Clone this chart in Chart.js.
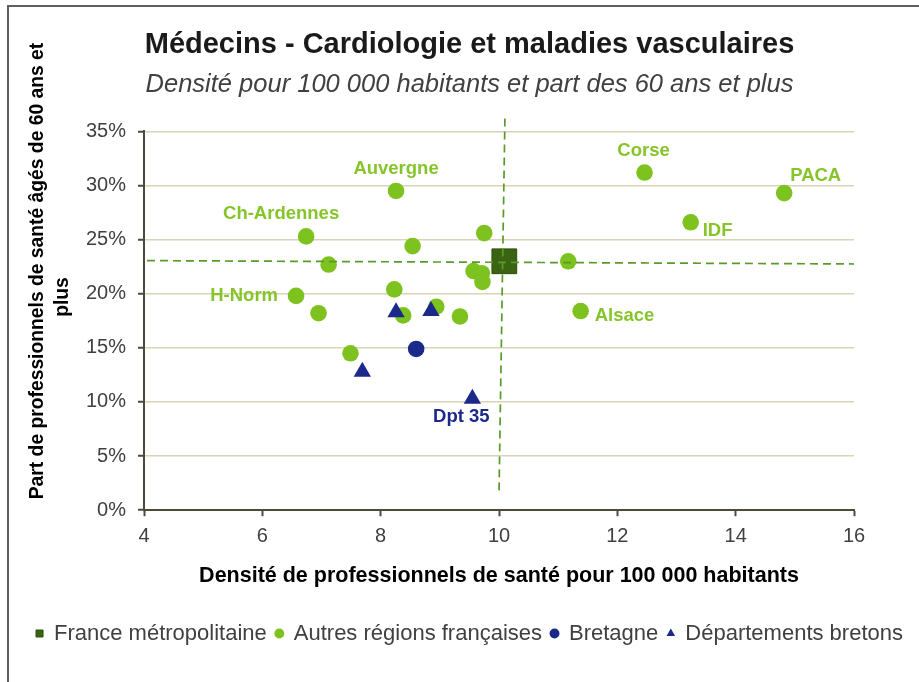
<!DOCTYPE html>
<html>
<head>
<meta charset="utf-8">
<script src="https://cdn.jsdelivr.net/npm/chart.js@4/dist/chart.umd.min.js"></script>
<style>
html,body{margin:0;padding:0;background:#fff;}
#wrap{position:relative;width:919px;height:682px;}
canvas{display:block;}
</style>
</head>
<body>
<div id="wrap"><canvas id="c" width="919" height="682"></canvas></div>
<script>
// ---------- DATA ----------
const seriesNames = ['France métropolitaine', 'Autres régions françaises', 'Bretagne', 'Départements bretons'];

const franceX = [10.09];
const franceY = [23.0];

const autresX = [8.26, 6.74, 9.75, 8.54, 7.12, 9.57, 9.71, 9.72, 8.23, 6.57, 6.95, 8.38, 8.94, 9.34, 7.49, 12.46, 14.82, 13.24, 11.17, 11.38];
const autresY = [29.5, 25.3, 25.6, 24.4, 22.7, 22.1, 21.9, 21.1, 20.4, 19.8, 18.2, 18.0, 18.8, 17.9, 14.5, 31.2, 29.3, 26.6, 23.0, 18.4];
const autresNoms = ['Auvergne', 'Ch-Ardennes', '', '', '', '', '', '', '', 'H-Norm', '', '', '', '', '', 'Corse', 'PACA', 'IDF', '', 'Alsace'];

const bretagneX = [8.60];
const bretagneY = [14.9];

const deptX = [8.26, 8.85, 7.69, 9.55];
const deptY = [18.3, 18.4, 12.8, 10.3];
const deptNoms = ['', '', '', 'Dpt 35'];

// reference (France) dashed lines
const refVertX = [10.10, 10.0];
const refVertY = [36.2, 1.5];
const refHorX = [4.05, 16.0];
const refHorY = [23.06, 22.75];

const xMin = 4, xMax = 16, xStep = 2;
const yMin = 0, yMax = 35, yStep = 5;

const titleText = 'Médecins - Cardiologie et maladies vasculaires';
const subtitleText = 'Densité pour 100 000 habitants et part des 60 ans et plus';
const xTitleText = 'Densité de professionnels de santé pour 100 000 habitants';
const yTitleLines = ['Part de professionnels de santé âgés de 60 ans et', 'plus'];

// ---------- STYLE / LAYOUT ----------
const FONT = "'Liberation Sans', Arial, sans-serif";
const GREEN = '#7dc21e';
const GREEN_LABEL = '#86c52a';
const NAVY = '#1b2a8a';
const DARKGREEN = '#3b6412';
const DASH = '#5a9a28';

const labelLayout = {
  'Auvergne':    {dx: 0,   dy: -22, align: 'center'},
  'Ch-Ardennes': {dx: -25, dy: -22, align: 'center'},
  'H-Norm':      {dx: -18, dy: 0,   align: 'right'},
  'Corse':       {dx: -1,  dy: -22, align: 'center'},
  'PACA':        {dx: 6,   dy: -17, align: 'left'},
  'IDF':         {dx: 12,  dy: 9,   align: 'left'},
  'Alsace':      {dx: 14,  dy: 5,   align: 'left'},
  'Dpt 35':      {dx: -11, dy: 18,  align: 'center'}
};

const pts = (xs, ys) => xs.map((x, i) => ({x: x, y: ys[i]}));

const labelsPlugin = {
  id: 'pointLabels',
  afterDatasetsDraw(chart) {
    const ctx = chart.ctx;
    const sx = chart.scales.x, sy = chart.scales.y;
    const groups = [
      {xs: autresX, ys: autresY, names: autresNoms, color: GREEN_LABEL},
      {xs: deptX, ys: deptY, names: deptNoms, color: NAVY}
    ];
    ctx.save();
    ctx.font = 'bold 18.5px ' + FONT;
    ctx.textBaseline = 'middle';
    groups.forEach(g => {
      g.names.forEach((n, i) => {
        if (!n) return;
        const lay = labelLayout[n] || {dx: 0, dy: -20, align: 'center'};
        const px = sx.getPixelForValue(g.xs[i]);
        const py = sy.getPixelForValue(g.ys[i]);
        ctx.textAlign = lay.align;
        ctx.fillStyle = g.color;
        ctx.fillText(n, px + lay.dx, py + lay.dy);
      });
    });
    ctx.restore();
  }
};

const framePlugin = {
  id: 'frameAndYTitle',
  beforeDraw(chart) {
    const ctx = chart.ctx;
    ctx.save();
    ctx.fillStyle = '#fff';
    ctx.fillRect(0, 0, chart.width, chart.height);
    ctx.strokeStyle = '#5f5f5f';
    ctx.lineWidth = 2;
    ctx.beginPath();
    ctx.moveTo(8, chart.height);
    ctx.lineTo(8, 6);
    ctx.lineTo(chart.width, 6);
    ctx.stroke();
    ctx.restore();
  },
  afterDraw(chart) {
    const ctx = chart.ctx;
    ctx.save();
    ctx.font = 'bold 19.3px ' + FONT;
    ctx.fillStyle = '#000';
    ctx.textAlign = 'center';
    ctx.textBaseline = 'middle';
    const pos = [[38, 271], [63, 297]];
    yTitleLines.forEach((t, i) => {
      ctx.save();
      ctx.translate(pos[i][0], pos[i][1]);
      ctx.rotate(-Math.PI / 2);
      ctx.fillText(t, 0, 0);
      ctx.restore();
    });
    ctx.restore();
  }
};

new Chart(document.getElementById('c'), {
  type: 'scatter',
  data: {
    datasets: [
      {label: seriesNames[0], data: pts(franceX, franceY), pointStyle: 'rect', pointRadius: 17.5, pointHoverRadius: 17.5,
       backgroundColor: DARKGREEN, borderColor: '#2c4d0c', borderWidth: 1, order: 0},
      {label: seriesNames[1], data: pts(autresX, autresY), pointStyle: 'circle', pointRadius: 8.3, pointHoverRadius: 8.3,
       backgroundColor: GREEN, borderColor: GREEN, borderWidth: 0, order: 3},
      {label: seriesNames[2], data: pts(bretagneX, bretagneY), pointStyle: 'circle', pointRadius: 8.3, pointHoverRadius: 8.3,
       backgroundColor: NAVY, borderColor: NAVY, borderWidth: 0, order: 2},
      {label: seriesNames[3], data: pts(deptX, deptY), pointStyle: 'triangle', pointRadius: 10, pointHoverRadius: 10,
       backgroundColor: NAVY, borderColor: NAVY, borderWidth: 0, order: 1},
      {label: 'refV', data: pts(refVertX, refVertY), showLine: true, pointRadius: 0, borderColor: DASH, borderWidth: 1.7,
       borderDash: [8, 5], clip: false, order: -1},
      {label: 'refH', data: pts(refHorX, refHorY), showLine: true, pointRadius: 0, borderColor: DASH, borderWidth: 1.7,
       borderDash: [8, 5], clip: false, order: -1}
    ]
  },
  options: {
    responsive: false,
    animation: false,
    events: [],
    layout: {padding: {left: 20, right: 0, top: 0, bottom: 27.5}},
    scales: {
      x: {
        type: 'linear', min: xMin, max: xMax,
        ticks: {stepSize: xStep, color: '#404040', font: {family: FONT, size: 20}, padding: 8},
        grid: {display: true, drawOnChartArea: false, drawTicks: true, tickLength: 6, tickColor: '#4d4a3c', tickWidth: 2},
        border: {display: true, color: '#4d4a3c', width: 2},
        title: {display: true, text: xTitleText, color: '#000', font: {family: FONT, size: 21.5, weight: 'bold'}, padding: {top: 7, bottom: 24.5}}
      },
      y: {
        type: 'linear', min: yMin, max: yMax,
        ticks: {stepSize: yStep, color: '#404040', font: {family: FONT, size: 20}, padding: 12, callback: v => v + '%'},
        grid: {color: '#d9d4b8', lineWidth: 1.5, drawTicks: true, tickLength: 6, tickColor: '#4d4a3c', tickWidth: 2},
        border: {display: true, color: '#4d4a3c', width: 2},
        afterFit: s => { s.width = 124; }
      },
      y2: {
        type: 'linear', position: 'right', display: true, min: 0, max: 1,
        ticks: {display: false}, grid: {display: false}, border: {display: false},
        afterFit: s => { s.width = 65; }
      }
    },
    plugins: {
      title: {display: true, text: titleText, color: '#1a1a1a', font: {family: FONT, size: 29, weight: 'bold'}, padding: {top: 28, bottom: 4}},
      subtitle: {display: true, text: subtitleText, color: '#404040', font: {family: FONT, size: 25.5, style: 'italic'}, padding: {top: 3, bottom: 31}},
      legend: {
        display: true, position: 'bottom',
        labels: {
          usePointStyle: true, boxWidth: 7, boxHeight: 7, padding: 9,
          color: '#404040', font: {family: FONT, size: 22},
          filter: it => it.datasetIndex < 4,
          sort: (a, b) => a.datasetIndex - b.datasetIndex
        }
      },
      tooltip: {enabled: false}
    }
  },
  plugins: [framePlugin, labelsPlugin]
});
</script>
</body>
</html>
